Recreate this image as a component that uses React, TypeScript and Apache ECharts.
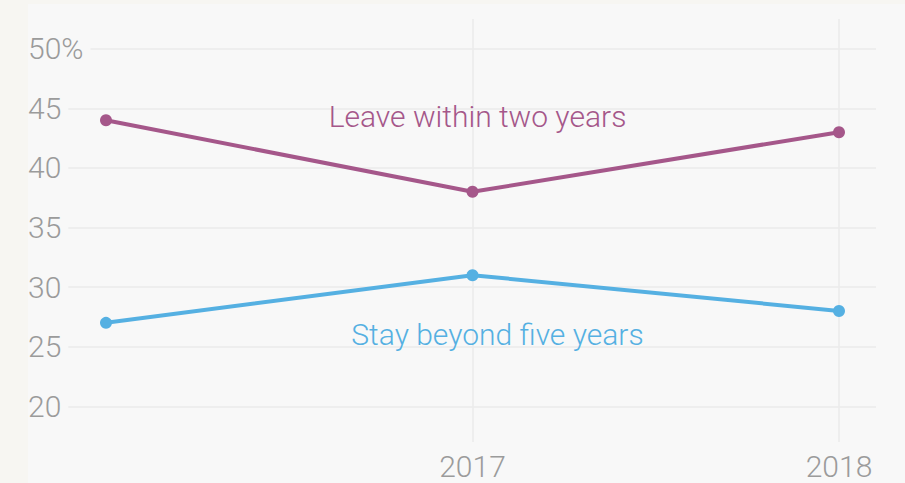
import React, { useEffect, useRef } from "react";
import * as echarts from "echarts";

const categories = ["2016", "2017", "2018"];
const leaveWithinTwo = [44, 38, 43];
const stayBeyondFive = [27, 31, 28];
const yMin = 17;
const yMax = 52.5;

const PURPLE = "#a5578a";
const BLUE = "#55b0e2";
const PANEL = "#f8f8f8";
const OUTER = "#f7f6f2";
const GRID_LINE = "#ebebeb";
const LABEL = "#9b9b9b";
const FONT = "Roboto";
const WEIGHT = 300;
const SIZE = 30;

export default function App() {
  const ref = useRef<HTMLDivElement>(null);

  useEffect(() => {
    document.body.style.margin = "0";
    document.body.style.background = OUTER;
    const chart = echarts.init(ref.current!, null, { renderer: "svg" });
    chart.setOption({
      animation: false,
      backgroundColor: OUTER,
      graphic: [
        {
          type: "rect",
          z: -10,
          silent: true,
          shape: { x: 28, y: 4, width: 877, height: 479 },
          style: { fill: PANEL },
        },
      ],
      grid: [
        { left: 106, right: 66, top: 19, bottom: 41 },
        { left: 66, right: 29, top: 19, bottom: 41 },
      ],
      xAxis: [
        {
          type: "category",
          gridIndex: 0,
          data: categories,
          boundaryGap: false,
          axisLine: { show: false },
          axisTick: { show: false },
          axisLabel: {
            interval: (i: number) => i !== 0,
            color: LABEL,
            fontFamily: FONT,
            fontWeight: WEIGHT,
            fontSize: SIZE,
            margin: 9,
          },
          splitLine: {
            show: true,
            interval: (i: number) => i !== 0,
            lineStyle: { color: GRID_LINE, width: 1.5 },
          },
        },
        {
          type: "value",
          gridIndex: 1,
          show: false,
        },
      ],
      yAxis: [
        {
          type: "value",
          gridIndex: 0,
          min: yMin,
          max: yMax,
          splitNumber: 7,
          show: false,
          splitLine: { show: false },
        },
        {
          type: "value",
          gridIndex: 1,
          min: yMin,
          max: yMax,
          splitNumber: 7,
          axisLine: { show: false },
          axisTick: { show: false },
          axisLabel: {
            showMinLabel: false,
            showMaxLabel: false,
            align: "left",
            margin: 38,
            color: LABEL,
            fontFamily: FONT,
            fontWeight: WEIGHT,
            fontSize: SIZE,
            backgroundColor: PANEL,
            padding: [0, 7, 0, 0],
            formatter: (v: number) => (v === 50 ? "50%" : String(v)),
          },
          splitLine: {
            show: true,
            showMinLine: false,
            showMaxLine: false,
            lineStyle: { color: GRID_LINE, width: 1.5 },
          },
        },
      ],
      series: [
        {
          name: "Leave within two years",
          type: "line",
          xAxisIndex: 0,
          yAxisIndex: 0,
          data: leaveWithinTwo,
          symbol: "circle",
          symbolSize: 12,
          lineStyle: { color: PURPLE, width: 4 },
          itemStyle: { color: PURPLE },
          z: 5,
          markPoint: {
            symbol: "circle",
            symbolSize: 0,
            silent: true,
            data: [
              {
                coord: ["2017", 44.3],
                label: {
                  show: true,
                  formatter: "Leave within two years",
                  color: PURPLE,
                  fontFamily: FONT,
                  fontWeight: WEIGHT,
                  fontSize: SIZE,
                  position: "inside",
                  offset: [5, 0],
                },
              },
            ],
          },
        },
        {
          name: "Stay beyond five years",
          type: "line",
          xAxisIndex: 0,
          yAxisIndex: 0,
          data: stayBeyondFive,
          symbol: "circle",
          symbolSize: 12,
          lineStyle: { color: BLUE, width: 4 },
          itemStyle: { color: BLUE },
          z: 5,
          markPoint: {
            symbol: "circle",
            symbolSize: 0,
            silent: true,
            data: [
              {
                coord: ["2017", 26.0],
                label: {
                  show: true,
                  formatter: "Stay beyond five years",
                  color: BLUE,
                  fontFamily: FONT,
                  fontWeight: WEIGHT,
                  fontSize: SIZE,
                  position: "inside",
                  offset: [25, 0],
                },
              },
            ],
          },
        },
      ],
    });
    return () => chart.dispose();
  }, []);

  return <div ref={ref} style={{ width: 905, height: 483 }} />;
}
